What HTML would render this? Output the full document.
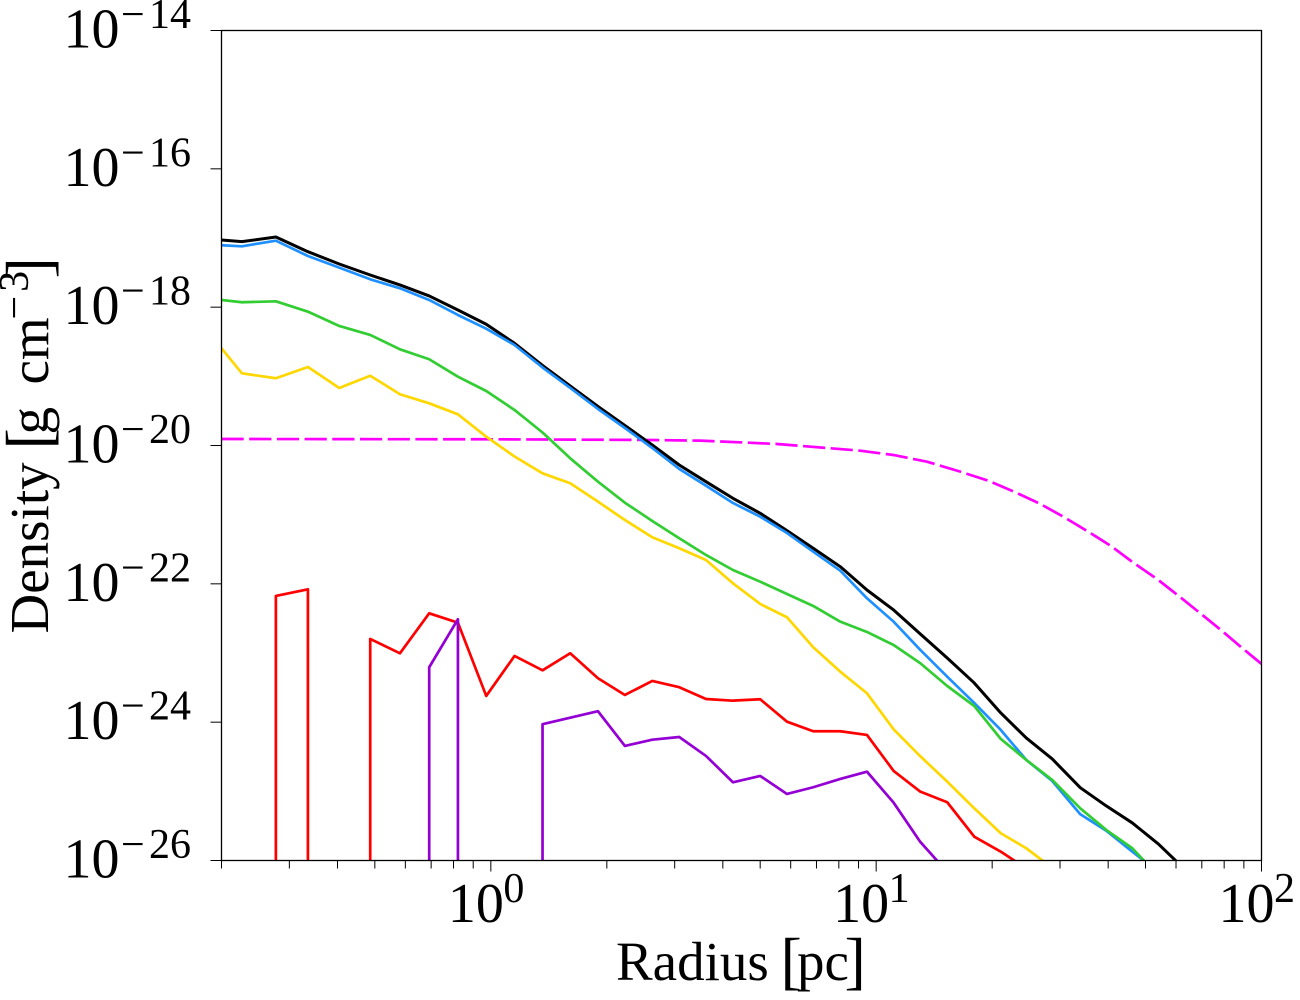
<!DOCTYPE html>
<html lang="en">
<head>
<meta charset="utf-8">
<title>Density vs Radius</title>
<style>
html,body{margin:0;padding:0;background:#fff;}
svg{display:block;}
text{font-family:"Liberation Serif",serif;fill:#000;}
</style>
</head>
<body>
<svg id="chart" xmlns="http://www.w3.org/2000/svg" width="1300" height="1000" viewBox="0 0 1300 1000">
  <defs>
    <clipPath id="plot-clip"><rect x="221.5" y="30.5" width="1040" height="830"></rect></clipPath>
  </defs>
  <g id="series-layer" clip-path="url(#plot-clip)"></g>
  <g id="axes-layer"></g>
  <text y="980" font-size="55"><tspan x="616">Radius</tspan><tspan x="780.5" y="982" font-size="64">[</tspan><tspan x="797" y="980">pc</tspan><tspan x="844.5" y="982" font-size="64">]</tspan></text>
  <text transform="translate(48,633.5) rotate(-90)" font-size="55"><tspan x="0" y="0">Density</tspan><tspan x="184" y="2" font-size="64">[</tspan><tspan x="199" y="0">g</tspan><tspan x="249" y="0">cm</tspan><tspan x="314" y="-20" font-size="42">−</tspan><tspan x="341.7" y="-20" font-size="42">3</tspan><tspan x="355" y="2" font-size="64">]</tspan></text>
</svg>
<script>
// Radius bins in pc
const radius = [0.2, 0.2259, 0.2768, 0.3352, 0.4042, 0.4864, 0.5809, 0.6919, 0.8215, 0.9729, 1.152, 1.362, 1.607, 1.897, 2.228, 2.624, 3.083, 3.617, 4.249, 5.002, 5.869, 6.865, 8.07, 9.465, 11.1, 13.02, 15.29, 17.97, 21.06, 24.52, 28.64, 33.86, 39.55, 46.22, 53.98, 63.07];
// log10 density in g/cm^3 (null means no gas in that bin)
const totalDensity = [-17.029, -17.053, -16.985, -17.198, -17.376, -17.535, -17.679, -17.838, -18.041, -18.247, -18.522, -18.843, -19.139, -19.436, -19.711, -19.992, -20.282, -20.523, -20.763, -20.980, -21.231, -21.486, -21.752, -22.089, -22.378, -22.725, -23.072, -23.433, -23.867, -24.228, -24.532, -24.947, -25.211, -25.457, -25.761, -26.122];
const blueDensity = [-17.105, -17.120, -17.039, -17.260, -17.429, -17.597, -17.727, -17.896, -18.113, -18.311, -18.547, -18.872, -19.168, -19.472, -19.747, -20.036, -20.339, -20.581, -20.831, -21.029, -21.265, -21.535, -21.810, -22.209, -22.547, -22.956, -23.342, -23.722, -24.113, -24.546, -24.850, -25.331, -25.569, -25.872, -26.166, -26.426];
const greenDensity = [-17.896, -17.929, -17.915, -18.065, -18.272, -18.402, -18.609, -18.753, -19.005, -19.212, -19.486, -19.812, -20.185, -20.523, -20.827, -21.091, -21.341, -21.583, -21.800, -21.969, -22.147, -22.320, -22.547, -22.696, -22.884, -23.148, -23.477, -23.766, -24.243, -24.546, -24.835, -25.245, -25.558, -25.823, -26.223, -26.512];
const yellowDensity = [-18.594, -18.956, -19.028, -18.865, -19.168, -18.991, -19.259, -19.390, -19.549, -19.872, -20.159, -20.402, -20.546, -20.812, -21.077, -21.327, -21.486, -21.655, -21.992, -22.291, -22.483, -22.917, -23.270, -23.582, -24.103, -24.493, -24.860, -25.245, -25.606, -25.823, -26.108, -26.426, -26.7, -27.0, -27.3, -27.6];
const redDensity = [null, null, -22.175, -22.079, null, -22.797, -23.004, -22.426, -22.562, -23.621, -23.043, -23.250, -23.004, -23.365, -23.607, -23.404, -23.495, -23.665, -23.689, -23.669, -23.993, -24.131, -24.131, -24.185, -24.705, -25.005, -25.158, -25.655, -25.872, -26.115, -26.354, null, null, null, null, null];
const purpleDensity = [null, null, null, null, null, null, null, -23.206, -22.512, null, null, -24.030, -23.935, -23.842, -24.344, -24.253, -24.214, -24.488, -24.869, -24.778, -25.038, -24.941, -24.821, -24.716, -25.164, -25.732, -26.166, -26.498, null, null, null, null, null, null, null, null];
// Dashed reference profile
const profileRadius = [0.2, 0.979, 2.593, 3.495, 4.62, 5.53, 9.09, 11.08, 13.55, 16.53, 19.54, 22.96, 26.67, 30.59, 35.52, 40.93, 46.48, 53.56, 60.83, 69.37, 79.0, 89.7, 100];
const profileDensity = [-19.906, -19.910, -19.920, -19.930, -19.959, -19.978, -20.075, -20.137, -20.234, -20.378, -20.509, -20.676, -20.845, -21.029, -21.246, -21.463, -21.694, -21.930, -22.171, -22.426, -22.681, -22.942, -23.158];
// Axis ticks
const xMajorExponents = [0, 1, 2];
const xMinorTicks = [0.2, 0.3, 0.4, 0.5, 0.6, 0.7, 0.8, 0.9, 2, 3, 4, 5, 6, 7, 8, 9, 20, 30, 40, 50, 60, 70, 80, 90];
const yMajorExponents = [-14, -16, -18, -20, -22, -24, -26];

const NS = 'http://www.w3.org/2000/svg';
const plotLeft = 221.5, plotRight = 1261.5, plotTop = 30.5, plotBottom = 860.5;
const xMin = Math.log10(0.2), xMax = 2, yMin = -26, yMax = -14;
function xScale(r) { return plotLeft + (Math.log10(r) - xMin) / (xMax - xMin) * (plotRight - plotLeft); }
function yScale(logRho) { return plotTop + (yMax - logRho) / (yMax - yMin) * (plotBottom - plotTop); }

function make(tag, attrs, parent) {
  const el = document.createElementNS(NS, tag);
  for (const k in attrs) el.setAttribute(k, attrs[k]);
  parent.appendChild(el);
  return el;
}
function buildPath(xs, ys) {
  let d = '';
  const floor = plotBottom + 30;
  for (let i = 0; i < xs.length; i++) {
    if (ys[i] === null) continue;
    const px = xScale(xs[i]).toFixed(2), py = yScale(ys[i]).toFixed(2);
    const prevMissing = i > 0 && ys[i - 1] === null;
    const nextMissing = i < xs.length - 1 && ys[i + 1] === null;
    if (i === 0) d += 'M' + px + ' ' + py;
    else if (prevMissing) d += 'M' + px + ' ' + floor + 'L' + px + ' ' + py;
    else d += 'L' + px + ' ' + py;
    if (nextMissing) d += 'L' + px + ' ' + floor;
  }
  return d;
}

const seriesLayer = document.getElementById('series-layer');
const axesLayer = document.getElementById('axes-layer');

const lineProfile = make('path', { d: buildPath(profileRadius, profileDensity), fill: 'none', stroke: '#ff00ff', 'stroke-width': 2.7, 'stroke-dasharray': '22.2 5.5' }, seriesLayer);



const lineTotal = make('path', { d: buildPath(radius, totalDensity), fill: 'none', stroke: '#000000', 'stroke-width': 3, 'stroke-linejoin': 'round' }, seriesLayer);



const lineBlue = make('path', { d: buildPath(radius, blueDensity), fill: 'none', stroke: '#1e90ff', 'stroke-width': 2.7, 'stroke-linejoin': 'round' }, seriesLayer);



const lineGreen = make('path', { d: buildPath(radius, greenDensity), fill: 'none', stroke: '#32cd32', 'stroke-width': 2.7, 'stroke-linejoin': 'round' }, seriesLayer);



const lineYellow = make('path', { d: buildPath(radius, yellowDensity), fill: 'none', stroke: '#ffd700', 'stroke-width': 2.7, 'stroke-linejoin': 'round' }, seriesLayer);



const lineRed = make('path', { d: buildPath(radius, redDensity), fill: 'none', stroke: '#ff0000', 'stroke-width': 2.7, 'stroke-linejoin': 'round' }, seriesLayer);



const linePurple = make('path', { d: buildPath(radius, purpleDensity), fill: 'none', stroke: '#9400d3', 'stroke-width': 2.7, 'stroke-linejoin': 'round' }, seriesLayer);



const frame = make('rect', { x: plotLeft, y: plotTop, width: plotRight - plotLeft, height: plotBottom - plotTop, fill: 'none', stroke: '#000', 'stroke-width': 1.3 }, axesLayer);



xMinorTicks.forEach(function (v) {
  const x = xScale(v);
  const tick = make('line', { x1: x, x2: x, y1: plotBottom, y2: plotBottom + 8, stroke: '#000', 'stroke-width': 1 }, axesLayer);
  
  
});

xMajorExponents.forEach(function (e) {
  const x = xScale(Math.pow(10, e));
  const tick = make('line', { x1: x, x2: x, y1: plotBottom, y2: plotBottom + 11, stroke: '#000', 'stroke-width': 1 }, axesLayer);
  
  
  const label = make('text', { 'font-size': 56, x: x - 43, y: 922 }, axesLayer);
  
  
  const base = make('tspan', {}, label);
  base.textContent = '10';
  const sup = make('tspan', { 'font-size': 42, x: x + 12.5, y: 902 }, label);
  sup.textContent = String(e);
});

yMajorExponents.forEach(function (e) {
  const y = yScale(e);
  const tick = make('line', { x1: plotLeft - 11, x2: plotLeft, y1: y, y2: y, stroke: '#000', 'stroke-width': 1 }, axesLayer);
  
  
  const label = make('text', { 'font-size': 56, x: 63.5, y: y + 17 }, axesLayer);
  
  
  const base = make('tspan', {}, label);
  base.textContent = '10';
  const minus = make('tspan', { 'font-size': 42, x: 121, y: y - 2.5 }, label);
  minus.textContent = '−';
  const sup = make('tspan', { 'font-size': 42, x: 149, y: y - 2.5 }, label);
  sup.textContent = String(Math.abs(e));
});
</script>
</body>
</html>
